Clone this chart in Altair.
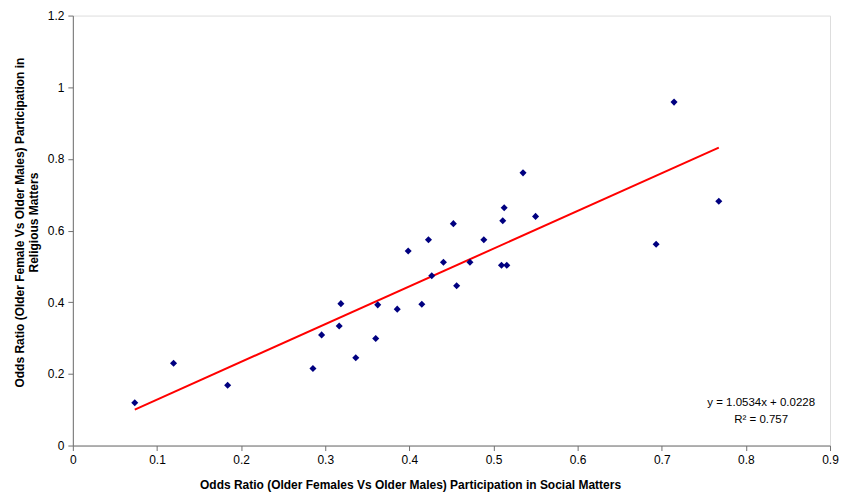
import altair as alt
import pandas as pd

social = [0.0736, 0.1197, 0.184, 0.2854, 0.2957, 0.3166, 0.3186, 0.3363,
          0.360, 0.3624, 0.3856, 0.3986, 0.4148, 0.4227, 0.4266, 0.4405,
          0.4523, 0.4562, 0.472, 0.4885, 0.5095, 0.5158, 0.511, 0.5127,
          0.5351, 0.550, 0.6933, 0.7146, 0.7678]
religious = [0.1194, 0.2295, 0.168, 0.2148, 0.3088, 0.3337, 0.396, 0.245,
             0.2986, 0.3926, 0.3807, 0.5427, 0.3945, 0.5742, 0.4736, 0.5115,
             0.6193, 0.446, 0.5115, 0.5742, 0.503, 0.503, 0.6276, 0.6635,
             0.761, 0.6395, 0.562, 0.9585, 0.682]

trend_x = [0.0736, 0.7678]
trend_y = [0.1003, 0.8316]

equation = ["y = 1.0534x + 0.0228", "R\u00b2 = 0.757"]

pts = pd.DataFrame({"x": social, "y": religious})
trend = pd.DataFrame({"x": trend_x, "y": trend_y})
ann = pd.DataFrame({"t": [equation]})

FONT = "Liberation Sans"
AXC = "#707070"

xscale = alt.Scale(domain=[0, 0.9], nice=False, zero=False)
yscale = alt.Scale(domain=[0, 1.2], nice=False, zero=False)

xaxis = alt.Axis(
    title="Odds Ratio (Older Females Vs Older Males) Participation in Social Matters",
    values=[0, 0.1, 0.2, 0.3, 0.4, 0.5, 0.6, 0.7, 0.8, 0.9],
    labelExpr="format(datum.value, '~g')", labelFlush=False,
    grid=False, domainColor=AXC, tickColor=AXC, tickSize=5,
    labelFont=FONT, labelFontSize=12, labelColor="#000000", labelPadding=4,
    titleFont=FONT, titleFontSize=12, titleFontWeight="bold", titleColor="#000000",
    titleX=338, titleY=39, titleBaseline="middle",
)
yaxis = alt.Axis(
    title=["Odds Ratio (Older Female Vs Older Males) Participation in", "Religious Matters"],
    values=[0, 0.2, 0.4, 0.6, 0.8, 1.0, 1.2],
    labelExpr="format(datum.value, '~g')", labelFlush=False,
    grid=False, domainColor=AXC, tickColor=AXC, tickSize=5,
    labelFont=FONT, labelFontSize=12, labelColor="#000000", labelPadding=4,
    titleFont=FONT, titleFontSize=12, titleFontWeight="bold", titleColor="#000000",
    titleAngle=270, titleX=-53, titleY=207, titleBaseline="middle", titleLineHeight=14,
)

points = alt.Chart(pts).mark_point(
    shape="diamond", filled=True, size=50, color="#000080", opacity=1
).encode(
    x=alt.X("x:Q", scale=xscale, axis=xaxis),
    y=alt.Y("y:Q", scale=yscale, axis=yaxis),
)

line = alt.Chart(trend).mark_line(color="#FF0000", strokeWidth=2).encode(
    x=alt.X("x:Q", scale=xscale),
    y=alt.Y("y:Q", scale=yscale),
)

text = alt.Chart(ann).mark_text(
    font=FONT, fontSize=11.5, color="#000000", align="center", baseline="middle",
    lineHeight=17,
).encode(
    text="t",
    x=alt.value(690),
    y=alt.value(388),
)

chart = alt.layer(line, points, text).properties(
    width=759, height=431,
    padding={"left": 65, "top": 7, "right": 10, "bottom": 52},
    autosize=alt.AutoSizeParams(type="none"),
).configure_view(stroke=None).configure(background="white")

chart.save("out.html", embed_options={"renderer": "svg", "actions": False})
